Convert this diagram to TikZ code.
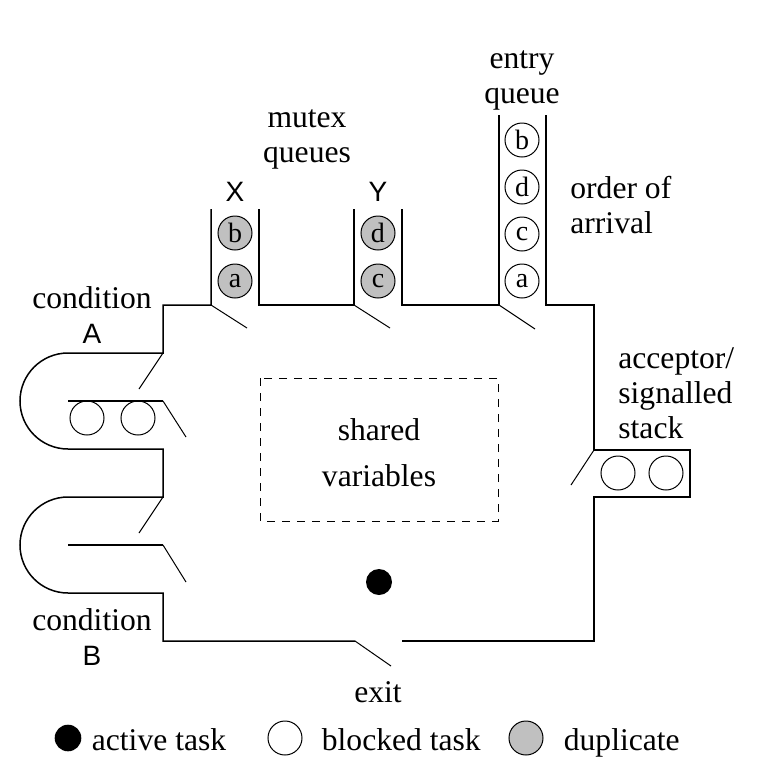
\documentclass[tikz,border=0pt]{standalone}
\usepackage{fontspec}
\setmainfont{Liberation Serif}
\newfontfamily\labelsans{Liberation Sans}
\definecolor{dupgray}{HTML}{C0C0C0}
\tikzset{
  wall/.style={line width=0.75pt},
  gate/.style={line width=0.5pt},
  task/.style={circle,draw,line width=0.5pt,minimum size=17pt,inner sep=0pt,font=\fontsize{14}{14}\selectfont},
  dup/.style={task,fill=dupgray},
  lbl/.style={align=center,inner sep=0pt,font=\fontsize{15.8}{17.5}\selectfont},
  letter/.style={inner sep=0pt,font=\labelsans\fontsize{14}{14}\selectfont}
}

\begin{document}
\begin{tikzpicture}[x=0.5pt,y=-0.5pt]
\useasboundingbox (0,0) rectangle (779,784);
\draw[wall] (211,209) -- (211,305) -- (163,305) -- (163,353) -- (68,353)
  arc[start angle=90,end angle=270,radius=24pt] -- (163,449) -- (163,497) -- (68,497)
  arc[start angle=90,end angle=270,radius=24pt] -- (163,593) -- (163,641) -- (355,641);
\draw[wall] (402,641) -- (594,641) -- (594,497) -- (690,497) -- (690,450) -- (594,450)
  -- (594,305) -- (546,305) -- (546,115);
\draw[wall] (499,115) -- (499,305) -- (402,305) -- (402,209);
\draw[wall] (354,209) -- (354,305) -- (259,305) -- (259,209);
\draw[wall] (68,401) -- (163,401) (68,545) -- (163,545);
\draw[gate] (211,305) -- (247,328) (354,305) -- (390,328) (499,305) -- (535,329)
  (163,353) -- (139,389) (163,401) -- (186,437)
  (163,497) -- (139,533) (163,545) -- (186,582)
  (594,450) -- (571,485) (355,641) -- (391,666);
\draw[line width=0.5pt,dash pattern=on 4pt off 3.5pt] (260,378) rectangle (498,521);
\node[lbl,font=\fontsize{15.8}{23}\selectfont] (shared) at (379,453) {shared\\variables};

\node[dup] (xb) at (235,233) {b};
\node[dup] (xa) at (235,281) {a};
\node[dup] (yd) at (378,233) {d};
\node[dup] (yc) at (378,281) {c};
\node[task] (eb) at (522,140) {b};
\node[task] (ed) at (522,187) {d};
\node[task] (ec) at (522,234) {c};
\node[task] (ea) at (522,281) {a};
\node[task] (ca1) at (87,418) {};
\node[task] (ca2) at (138,418) {};
\node[task] (st1) at (618,473) {};
\node[task] (st2) at (666,473) {};
\node[circle,fill,minimum size=13pt,inner sep=0pt] (active) at (379,582) {};

\node[lbl] (entry) at (522,80) {entry\\queue};
\node[lbl] (mutex) at (307,139) {mutex\\queues};
\node[letter] (X) at (235,192) {X};
\node[letter] (Y) at (378,192) {Y};
\node[lbl,anchor=west,align=left] (order) at (570,205) {order of\\arrival};
\node[lbl] (condA) at (92,298) {condition};
\node[letter] (A) at (92,334) {A};
\node[lbl] (condB) at (92,620) {condition};
\node[letter] (B) at (92,656) {B};
\node[lbl,anchor=west,align=left] (acceptor) at (618,393) {acceptor/\\signalled\\stack};
\node[lbl] (exit) at (378,692) {exit};

\node[circle,fill,minimum size=13.3pt,inner sep=0pt] (kactive) at (68,738) {};
\node[lbl,anchor=base west] (tactive) at (91.5,750) {active task};
\node[task] (kblocked) at (285,738) {};
\node[lbl,anchor=base west] (tblocked) at (321.5,750) {blocked task};
\node[dup] (kdup) at (526,738) {};
\node[lbl,anchor=base west] (tdup) at (563.5,750) {duplicate};
\end{tikzpicture}
\end{document}
